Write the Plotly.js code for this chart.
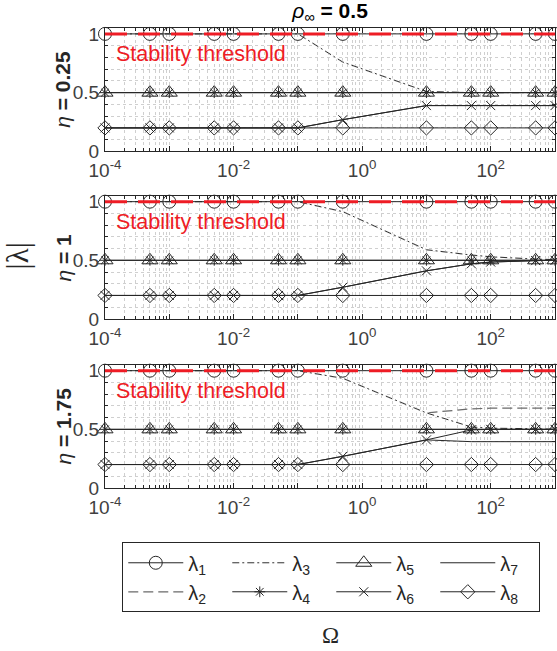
<!DOCTYPE html>
<html><head><meta charset="utf-8">
<script src="https://cdn.plot.ly/plotly-3.0.1.min.js"></script>
<style>html,body{margin:0;padding:0;background:#fff}#chart{width:557px;height:651px}</style>
</head><body><div id="chart"></div>
<script>
// ---- data ----
const omega = [1e-4, 5e-4, 1e-3, 5e-3, 1e-2, 5e-2, 0.1, 0.5, 10, 50, 100, 500, 1000];

// eta = 0.25
const lam1_eta025 = [1, 1, 1, 1, 1, 1, 1, 1, 1, 1, 1, 1, 1];
const lam2_eta025 = [1, 1, 1, 1, 1, 1, 1, 0.76, 0.51, 0.5, 0.5, 0.5, 0.5];
const lam3_eta025 = [1, 1, 1, 1, 1, 1, 1, 0.76, 0.51, 0.5, 0.5, 0.5, 0.5];
const lam4_eta025 = [0.5, 0.5, 0.5, 0.5, 0.5, 0.5, 0.5, 0.5, 0.5, 0.5, 0.5, 0.5, 0.5];
const lam5_eta025 = [0.5, 0.5, 0.5, 0.5, 0.5, 0.5, 0.5, 0.5, 0.5, 0.5, 0.5, 0.5, 0.5];
const lam6_eta025 = [0.2, 0.2, 0.2, 0.2, 0.2, 0.2, 0.2, 0.27, 0.39, 0.39, 0.39, 0.39, 0.39];
const lam7_eta025 = [0.2, 0.2, 0.2, 0.2, 0.2, 0.2, 0.2, 0.27, 0.39, 0.39, 0.39, 0.39, 0.39];
const lam8_eta025 = [0.2, 0.2, 0.2, 0.2, 0.2, 0.2, 0.2, 0.2, 0.2, 0.2, 0.2, 0.2, 0.2];

// eta = 1
const lam1_eta1 = [1, 1, 1, 1, 1, 1, 1, 1, 1, 1, 1, 1, 1];
const lam2_eta1 = [1, 1, 1, 1, 1, 1, 1, 0.915, 0.59, 0.545, 0.53, 0.51, 0.505];
const lam3_eta1 = [1, 1, 1, 1, 1, 1, 1, 0.915, 0.59, 0.545, 0.53, 0.51, 0.505];
const lam4_eta1 = [0.5, 0.5, 0.5, 0.5, 0.5, 0.5, 0.5, 0.5, 0.5, 0.5, 0.5, 0.5, 0.5];
const lam5_eta1 = [0.5, 0.5, 0.5, 0.5, 0.5, 0.5, 0.5, 0.5, 0.5, 0.5, 0.5, 0.5, 0.5];
const lam6_eta1 = [0.2, 0.2, 0.2, 0.2, 0.2, 0.2, 0.2, 0.27, 0.41, 0.47, 0.485, 0.497, 0.5];
const lam7_eta1 = [0.2, 0.2, 0.2, 0.2, 0.2, 0.2, 0.2, 0.27, 0.41, 0.47, 0.485, 0.497, 0.5];
const lam8_eta1 = [0.2, 0.2, 0.2, 0.2, 0.2, 0.2, 0.2, 0.2, 0.2, 0.2, 0.2, 0.2, 0.2];

// eta = 1.75
const lam1_eta175 = [1, 1, 1, 1, 1, 1, 1, 1, 1, 1, 1, 1, 1];
const lam2_eta175 = [1, 1, 1, 1, 1, 1, 1, 0.935, 0.64, 0.675, 0.68, 0.68, 0.68];
const lam3_eta175 = [1, 1, 1, 1, 1, 1, 1, 0.935, 0.64, 0.52, 0.51, 0.505, 0.5];
const lam4_eta175 = [0.5, 0.5, 0.5, 0.5, 0.5, 0.5, 0.5, 0.5, 0.5, 0.5, 0.5, 0.5, 0.5];
const lam5_eta175 = [0.5, 0.5, 0.5, 0.5, 0.5, 0.5, 0.5, 0.5, 0.5, 0.5, 0.5, 0.5, 0.5];
const lam6_eta175 = [0.2, 0.2, 0.2, 0.2, 0.2, 0.2, 0.2, 0.27, 0.41, 0.495, 0.5, 0.5, 0.5];
const lam7_eta175 = [0.2, 0.2, 0.2, 0.2, 0.2, 0.2, 0.2, 0.27, 0.41, 0.395, 0.395, 0.395, 0.395];
const lam8_eta175 = [0.2, 0.2, 0.2, 0.2, 0.2, 0.2, 0.2, 0.2, 0.2, 0.2, 0.2, 0.2, 0.2];

const etaValues = ['0.25', '1', '1.75'];
const seriesNames = ['λ<sub>1</sub>', 'λ<sub>2</sub>', 'λ<sub>3</sub>', 'λ<sub>4</sub>',
                     'λ<sub>5</sub>', 'λ<sub>6</sub>', 'λ<sub>7</sub>', 'λ<sub>8</sub>'];
const stabilityThreshold = 1;
const xTickVals = [1e-4, 1e-3, 1e-2, 1e-1, 1, 10, 100, 1000];
const xTickText = ['10<sup>-4</sup>', '', '10<sup>-2</sup>', '', '10<sup>0</sup>', '', '10<sup>2</sup>', ''];
const yTickVals = [0, 0.5, 1];
const yTickText = ['0', '0.5', '1'];

// ---- build ----
const panelData = [
  [lam1_eta025, lam2_eta025, lam3_eta025, lam4_eta025, lam5_eta025, lam6_eta025, lam7_eta025, lam8_eta025],
  [lam1_eta1, lam2_eta1, lam3_eta1, lam4_eta1, lam5_eta1, lam6_eta1, lam7_eta1, lam8_eta1],
  [lam1_eta175, lam2_eta175, lam3_eta175, lam4_eta175, lam5_eta175, lam6_eta175, lam7_eta175, lam8_eta175]
];

const LC = '#262626';
const styles = [
  {mode: 'lines+markers', line: {color: LC, width: 1}, marker: {symbol: 'circle-open', size: 13}},
  {mode: 'lines', line: {color: '#6a6a6a', width: 1.2, dash: '10px,5px'}},
  {mode: 'lines', line: {color: '#303030', width: 1, dash: '7px,3px,2px,3px'}},
  {mode: 'lines+markers', line: {color: LC, width: 1}, marker: {symbol: 'asterisk-open', size: 9}},
  {mode: 'lines+markers', line: {color: LC, width: 1}, marker: {symbol: 'triangle-up-open', size: 14}},
  {mode: 'lines+markers', line: {color: LC, width: 1}, marker: {symbol: 'x-thin-open', size: 9}},
  {mode: 'lines', line: {color: LC, width: 1}},
  {mode: 'lines+markers', line: {color: LC, width: 1}, marker: {symbol: 'diamond-open', size: 11}}
];
const legendRanks = [1, 5, 2, 6, 3, 7, 4, 8];
// drawing order: lambda2, (white underlay of lambda3), lambda3, lambda1, lambda4..8
const drawOrder = [1, 2, 0, 3, 4, 5, 6, 7];

const traces = [];
panelData.forEach((series, p) => {
  const ax = p === 0 ? '' : String(p + 1);
  drawOrder.forEach(k => {
    const vals = series[k];
    const st = styles[k];
    if (k === 2) {
      traces.push({
        type: 'scatter', x: omega, y: vals, xaxis: 'x' + ax, yaxis: 'y' + ax,
        mode: 'lines', line: {color: '#ffffff', width: 1.8}, showlegend: false,
        cliponaxis: false, hoverinfo: 'skip'
      });
    }
    const t = {
      type: 'scatter', x: omega, y: vals,
      xaxis: 'x' + ax, yaxis: 'y' + ax,
      name: seriesNames[k], legendgroup: 'g' + k, showlegend: p === 0,
      legendrank: legendRanks[k], mode: st.mode,
      line: Object.assign({}, st.line), cliponaxis: false, hoverinfo: 'skip'
    };
    if (st.marker) t.marker = Object.assign({color: LC, line: {color: LC, width: 1}}, st.marker);
    traces.push(t);
  });
});

// vertical domains (paper)
const domains = [[0.7317, 1.0], [0.3676, 0.6352], [0.0, 0.2678]];

const gridCol = '#cfcfcf';
const tickFont = {family: 'Liberation Sans, Arial, sans-serif', size: 19, color: '#404040'};

function xAxis(p) {
  return {
    type: 'log', range: [-4, 3], domain: [0, 1],
    anchor: p === 0 ? 'y' : 'y' + (p + 1),
    tickmode: 'array', tickvals: xTickVals, ticktext: xTickText,
    ticks: 'inside', ticklen: 5, tickcolor: LC, mirror: 'allticks',
    showline: true, linecolor: LC, linewidth: 1,
    showgrid: true, gridcolor: gridCol, griddash: 'dot', gridwidth: 1,
    minor: {dtick: 'D1', ticks: 'inside', ticklen: 3, tickcolor: LC, showgrid: true, gridcolor: gridCol, griddash: 'dot'},
    zeroline: false, tickfont: tickFont, ticklabelstandoff: 2, automargin: false
  };
}
function yAxis(p) {
  return {
    range: [0, 1.05], domain: domains[p],
    anchor: p === 0 ? 'x' : 'x' + (p + 1),
    tickmode: 'array', tickvals: yTickVals, ticktext: yTickText,
    ticks: 'inside', ticklen: 5, tickcolor: LC, mirror: 'allticks',
    showline: true, linecolor: LC, linewidth: 1,
    showgrid: true, gridcolor: gridCol, griddash: 'dot',
    minor: {dtick: 0.1, ticks: 'inside', ticklen: 3, tickcolor: LC, showgrid: true, gridcolor: gridCol, griddash: 'dot'},
    zeroline: false, tickfont: tickFont, ticklabelstandoff: 1, automargin: false
  };
}

const shapes = [];
const annotations = [];
etaValues.forEach((eta, p) => {
  const ax = p === 0 ? '' : String(p + 1);
  shapes.push({
    type: 'line', xref: 'x' + ax + ' domain', yref: 'y' + ax,
    x0: 0, x1: 1, y0: stabilityThreshold, y1: stabilityThreshold,
    line: {color: '#ee1c25', width: 3, dash: '22px,11px'}, layer: 'above'
  });
  annotations.push({
    xref: 'x' + ax + ' domain', yref: 'y' + ax, x: 0, y: 0.83,
    xanchor: 'left', yanchor: 'middle', xshift: 9, showarrow: false,
    text: 'Stability threshold',
    font: {family: 'Liberation Sans, Arial, sans-serif', size: 21.5, color: '#ee1c25'}
  });
  annotations.push({
    xref: 'paper', yref: 'y' + ax + ' domain', x: -0.093, y: 0.5,
    xanchor: 'center', yanchor: 'middle', textangle: -90, showarrow: false,
    text: '<i>η</i><b> = ' + eta + '</b>',
    font: {family: 'Liberation Sans, Arial, sans-serif', size: 21, color: '#262626'}
  });
});
annotations.push({
  xref: 'paper', yref: 'paper', x: -0.195, y: 0.504, xanchor: 'center', yanchor: 'middle',
  textangle: -90, showarrow: false, text: '|λ|',
  font: {family: 'Liberation Serif, Times New Roman, serif', size: 31, color: '#262626'}
});
annotations.push({
  xref: 'paper', yref: 'paper', x: 0.502, y: -0.3196, xanchor: 'center', yanchor: 'middle',
  showarrow: false, text: 'Ω',
  font: {family: 'Liberation Serif, Times New Roman, serif', size: 23, color: '#262626'}
});

const layout = {
  width: 557, height: 651,
  margin: {l: 105, r: 2, t: 28, b: 163},
  paper_bgcolor: '#ffffff', plot_bgcolor: '#ffffff',
  title: {
    text: '<i>ρ</i><sub>∞</sub><b> = 0.5</b>',
    x: 0.5, xref: 'paper', xanchor: 'center', y: 0.984, yref: 'container', yanchor: 'middle',
    font: {family: 'Liberation Sans, Arial, sans-serif', size: 21, color: '#000'}
  },
  xaxis: xAxis(0), yaxis: yAxis(0),
  xaxis2: xAxis(1), yaxis2: yAxis(1),
  xaxis3: xAxis(2), yaxis3: yAxis(2),
  shapes: shapes, annotations: annotations,
  showlegend: true,
  legend: {
    orientation: 'h', x: 0.0384, y: -0.118, xanchor: 'left', yanchor: 'top',
    entrywidth: 34, entrywidthmode: 'pixels', traceorder: 'normal',
    itemwidth: 55,
    bordercolor: LC, borderwidth: 1, bgcolor: '#fff',
    font: {family: 'Liberation Sans, Arial, sans-serif', size: 20, color: '#262626'}
  }
};

Plotly.newPlot('chart', traces, layout, {staticPlot: true, displayModeBar: false});
</script>
</body></html>
